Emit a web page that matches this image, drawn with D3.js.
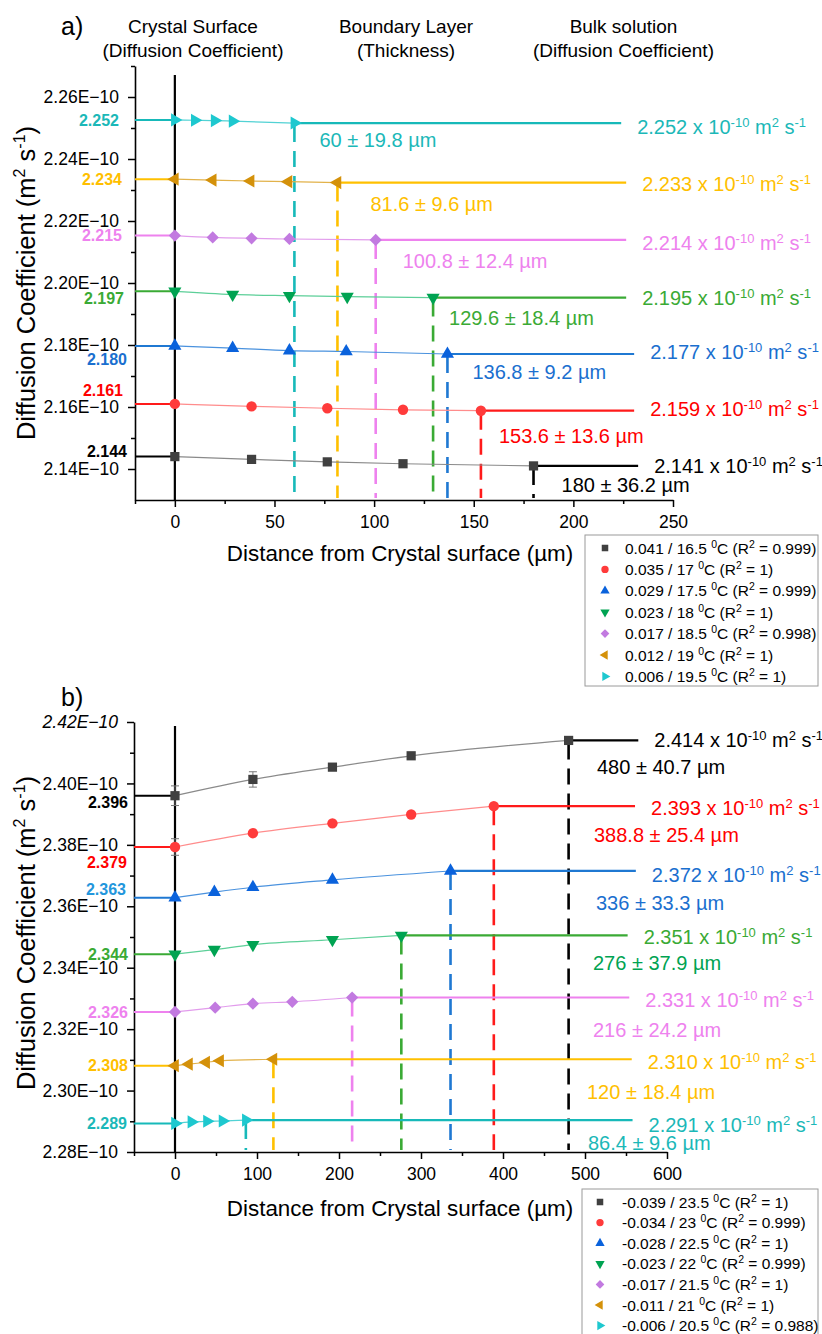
<!DOCTYPE html>
<html>
<head>
<meta charset="utf-8">
<script src="https://d3js.org/d3.v7.min.js"></script>
<style>
body { margin: 0; background: #fff; }
text { font-family: Arial, "Liberation Sans", sans-serif; }
</style>
</head>
<body>
<div id="chart-area"></div>
<script>
// ---- Panel a data (order: legend order) ----
var aLegend = ["0.041 / 16.5", "0.035 / 17", "0.029 / 17.5", "0.023 / 18", "0.017 / 18.5", "0.012 / 19", "0.006 / 19.5"];
var aR2 = ["0.999", "1", "0.999", "1", "0.998", "1", "1"];
var aDist = [
    [0, 38.5, 76.5, 114.5, 180],
    [0, 38.5, 76.5, 114.5, 153.6],
    [0, 29, 57.5, 86, 136.8],
    [0, 29, 57.5, 86.5, 129.6],
    [0, 19, 38.5, 57.5, 100.8],
    [0, 19, 38, 57, 81.6],
    [0, 10, 20, 29, 60]
];
var aCoef = [
    [2.1440, 2.1431, 2.1423, 2.1417, 2.1410],
    [2.1610, 2.1602, 2.1596, 2.1591, 2.1588],
    [2.1797, 2.1790, 2.1782, 2.1779, 2.1771],
    [2.1973, 2.1963, 2.1959, 2.1956, 2.1953],
    [2.2153, 2.2147, 2.2144, 2.2142, 2.2139],
    [2.2335, 2.2332, 2.2329, 2.2327, 2.2324],
    [2.2526, 2.2525, 2.2524, 2.2522, 2.2516]
];
var aErr = [[0, 0, 0, 0, 0], [0, 0, 0, 0, 0], [0, 0, 0, 0, 0], [0, 0, 0, 0, 0], [0, 0, 0, 0, 0], [0, 0, 0, 0, 0], [0, 0, 0, 0, 0]];
var aSurface = ["2.144", "2.161", "2.180", "2.197", "2.215", "2.234", "2.252"];
var aBulk = ["2.141", "2.159", "2.177", "2.195", "2.214", "2.233", "2.252"];
var aBulkEnd = [232.5, 230.5, 230.5, 226.5, 226.5, 226.5, 224];
var aThick = [180, 153.6, 136.8, 129.6, 100.8, 81.6, 60];
var aThickErr = [36.2, 13.6, 9.2, 18.4, 12.4, 9.6, 19.8];
var aXTicks = [0, 50, 100, 150, 200, 250];
var aYTicks = [2.14, 2.16, 2.18, 2.20, 2.22, 2.24, 2.26];

// ---- Panel b data ----
var bLegend = ["-0.039 / 23.5", "-0.034 / 23", "-0.028 / 22.5", "-0.023 / 22", "-0.017 / 21.5", "-0.011 / 21", "-0.006 / 20.5"];
var bR2 = ["1", "0.999", "1", "0.999", "1", "1", "0.988"];
var bDist = [
    [0, 95, 192, 288, 480],
    [0, 95, 192, 288, 388.8],
    [0, 48, 95, 192, 336],
    [0, 48, 95, 192, 276],
    [0, 49, 95, 143, 216],
    [0, 17, 38, 55, 120],
    [0, 20, 39, 58, 86.4]
];
var bCoef = [
    [2.3960, 2.4013, 2.4053, 2.4090, 2.4140],
    [2.3793, 2.3838, 2.3870, 2.3899, 2.3926],
    [2.3628, 2.3646, 2.3662, 2.3686, 2.3715],
    [2.3444, 2.3459, 2.3475, 2.3491, 2.3505],
    [2.3256, 2.3270, 2.3283, 2.3289, 2.3303],
    [2.3081, 2.3086, 2.3092, 2.3097, 2.3102],
    [2.2893, 2.2898, 2.2900, 2.2901, 2.2904]
];
var bErr = [[0.0032, 0.0025, 0, 0, 0], [0.0027, 0, 0, 0, 0], [0, 0, 0, 0, 0], [0, 0, 0, 0, 0], [0, 0, 0, 0, 0], [0, 0, 0, 0, 0], [0, 0, 0, 0, 0]];
var bSurface = ["2.396", "2.379", "2.363", "2.344", "2.326", "2.308", "2.289"];
var bBulk = ["2.414", "2.393", "2.372", "2.351", "2.331", "2.310", "2.291"];
var bBulkEnd = [565, 561, 562, 552, 554, 557, 558];
var bThick = [480, 388.8, 336, 276, 216, 120, 86.4];
var bThickErr = [40.7, 25.4, 33.3, 37.9, 24.2, 18.4, 9.6];
var bXTicks = [0, 100, 200, 300, 400, 500, 600];
var bYTicks = [2.28, 2.30, 2.32, 2.34, 2.36, 2.38, 2.40, 2.42];

// ---- styles ----
var markerColors = ["#404040", "#ff3b3b", "#0a62dc", "#00a352", "#c27ae0", "#d4910a", "#1ec8cf"];
var fitColors = ["#8a8a8a", "#ff8c8c", "#4a92de", "#5ccf98", "#e29cec", "#e2b24a", "#52d2d4"];
var lineColors = ["#000000", "#ff1a1a", "#1f78d2", "#3aaa35", "#ee82ee", "#ffc000", "#17b9b9"];
var textColors = ["#000000", "#ff0000", "#1a6fcf", "#3aaa35", "#ee82ee", "#ffbf00", "#1bb8b8"];
var symbols = [
    { type: d3.symbolSquare, rot: 0, size: 85 },
    { type: d3.symbolCircle, rot: 0, size: 85 },
    { type: d3.symbolTriangle, rot: 0, size: 75 },
    { type: d3.symbolTriangle, rot: 180, size: 75 },
    { type: d3.symbolSquare, rot: 45, size: 75 },
    { type: d3.symbolTriangle, rot: -90, size: 75 },
    { type: d3.symbolTriangle, rot: 90, size: 75 }
];

var svg = d3.select("#chart-area")
    .append("svg")
    .attr("width", 822)
    .attr("height", 1334);

svg.append("rect").attr("width", 822).attr("height", 1334).attr("fill", "#fff");

// write text with superscript parts: [[string, isSup], ...]
function richText(t, parts, supSize, shift) {
    var up = false;
    parts.forEach(function(p) {
        var s = t.append("tspan").text(p[0]);
        if (p[1]) {
            s.attr("font-size", supSize);
            if (!up) { s.attr("dy", -shift); up = true; }
        } else if (up) {
            s.attr("dy", shift);
            up = false;
        }
    });
}

function drawPanel(o) {
    var g = svg.append("g");

    // X Scale
    var x = d3.scaleLinear().domain(o.xDomain).range(o.xRange);
    // Y Scale
    var y = d3.scaleLinear().domain(o.yDomain).range(o.yRange);

    var yBottom = o.yRange[0];

    // minor ticks
    g.append("g")
        .attr("transform", "translate(0," + yBottom + ")")
        .call(d3.axisBottom(x).tickValues(o.xMinor).tickSize(4).tickSizeOuter(0).tickFormat(""))
        .call(function(a) { a.select(".domain").remove(); })
        .selectAll("line").attr("stroke-width", 1.5);
    g.append("g")
        .attr("transform", "translate(" + o.xRange[0] + ",0)")
        .call(d3.axisLeft(y).tickValues(o.yMinor).tickSize(4).tickSizeOuter(0).tickFormat(""))
        .call(function(a) { a.select(".domain").remove(); })
        .selectAll("line").attr("stroke-width", 1.5);

    // X Axis
    var xAxisGroup = g.append("g")
        .attr("transform", "translate(0," + yBottom + ")")
        .call(d3.axisBottom(x).tickValues(o.xTicks).tickSize(7).tickSizeOuter(0).tickPadding(9));
    xAxisGroup.select(".domain").attr("stroke-width", 1.6);
    xAxisGroup.selectAll("line").attr("stroke-width", 1.5);
    xAxisGroup.selectAll("text")
        .attr("font-family", "Arial, 'Liberation Sans', sans-serif")
        .attr("font-size", "17.5px")
        .attr("fill", "#000");

    // Y Axis
    var yAxisGroup = g.append("g")
        .attr("transform", "translate(" + o.xRange[0] + ",0)")
        .call(d3.axisLeft(y).tickValues(o.yTicks).tickSize(7).tickSizeOuter(0).tickPadding(9)
            .tickFormat(function(d) { return d3.format(".2f")(d) + "E\u221210"; }));
    yAxisGroup.select(".domain").attr("stroke-width", 1.6);
    yAxisGroup.selectAll("line").attr("stroke-width", 1.5);
    yAxisGroup.selectAll("text")
        .attr("font-family", "Arial, 'Liberation Sans', sans-serif")
        .attr("font-size", "17.5px")
        .attr("fill", "#000")
        .style("font-style", function(d) { return o.italicTop && d === o.yTicks[o.yTicks.length - 1] ? "italic" : "normal"; });

    // dashed thickness lines
    o.dist.forEach(function(xs, i) {
        var last = xs.length - 1;
        g.append("line")
            .attr("x1", x(o.thick[i])).attr("x2", x(o.thick[i]))
            .attr("y1", y(o.coef[i][last]) + 3).attr("y2", yBottom - 2)
            .attr("stroke", lineColors[i])
            .attr("stroke-width", 2.6)
            .attr("stroke-dasharray", "16,9");
    });

    var fit = d3.line()
        .x(function(d) { return x(d[0]); })
        .y(function(d) { return y(d[1]); })
        .curve(d3.curveMonotoneX);

    o.dist.forEach(function(xs, i) {
        var ys = o.coef[i];
        var last = xs.length - 1;
        var pts = xs.map(function(v, k) { return [v, ys[k]]; });

        // left surface line
        g.append("line")
            .attr("x1", x(o.xDomain[0])).attr("x2", x(0))
            .attr("y1", y(ys[0])).attr("y2", y(ys[0]))
            .attr("stroke", lineColors[i]).attr("stroke-width", 2);

        // fitted curve
        g.append("path")
            .attr("d", fit(pts))
            .attr("fill", "none")
            .attr("stroke", fitColors[i])
            .attr("stroke-width", 1.2);

        // bulk line
        g.append("line")
            .attr("x1", x(xs[last])).attr("x2", x(o.bulkEnd[i]))
            .attr("y1", y(ys[last])).attr("y2", y(ys[last]))
            .attr("stroke", lineColors[i]).attr("stroke-width", 2.2);

        // surface label
        g.append("text")
            .attr("x", o.surfX[i])
            .attr("y", y(ys[0]) + o.surfDy[i])
            .attr("dy", "0.35em")
            .attr("text-anchor", "end")
            .attr("font-weight", "bold")
            .attr("font-size", "16px")
            .attr("fill", o.surfColors ? o.surfColors[i] : textColors[i])
            .text(o.surface[i]);

        // bulk label
        var bt = g.append("text")
            .attr("x", x(o.bulkEnd[i]) + 16)
            .attr("y", y(ys[last]) + o.bulkDy[i])
            .attr("dy", "0.35em")
            .attr("font-size", "20px")
            .attr("fill", textColors[i]);
        richText(bt, [[o.bulk[i] + " x 10"], ["-10", 1], [" m"], ["2", 1], [" s"], ["-1", 1]], "13px", 7);

        // thickness label
        g.append("text")
            .attr("x", o.thickX(x, i))
            .attr("y", y(ys[last]) + o.thickDy[i])
            .attr("dy", "0.35em")
            .attr("font-size", "20px")
            .attr("fill", o.thickColors ? o.thickColors[i] : textColors[i])
            .text(o.thick[i] + " \u00b1 " + o.thickErr[i] + " \u00b5m");
    });

    // crystal surface line
    g.append("line")
        .attr("x1", x(0)).attr("x2", x(0))
        .attr("y1", o.surfTop).attr("y2", yBottom)
        .attr("stroke", "#000").attr("stroke-width", 2.2);

    // error bars + markers
    o.dist.forEach(function(xs, i) {
        xs.forEach(function(v, k) {
            var e = o.err[i][k];
            if (e > 0) {
                var cx = x(v);
                g.append("path")
                    .attr("d", "M" + (cx - 4) + "," + y(o.coef[i][k] + e) + "H" + (cx + 4) +
                        "M" + cx + "," + y(o.coef[i][k] + e) + "V" + y(o.coef[i][k] - e) +
                        "M" + (cx - 4) + "," + y(o.coef[i][k] - e) + "H" + (cx + 4))
                    .attr("stroke", "#777").attr("stroke-width", 1).attr("fill", "none");
            }
        });
        g.selectAll(null)
            .data(xs)
            .enter()
            .append("path")
            .attr("d", d3.symbol().type(symbols[i].type).size(symbols[i].size))
            .attr("transform", function(d, k) {
                return "translate(" + x(d) + "," + y(o.coef[i][k]) + ") rotate(" + symbols[i].rot + ")";
            })
            .attr("fill", markerColors[i]);
    });

    // axis titles
    var yt = g.append("text")
        .attr("transform", "translate(35," + o.yTitleY + ") rotate(-90)")
        .attr("text-anchor", "middle")
        .attr("font-size", "25.5px")
        .attr("fill", "#000");
    richText(yt, [["Diffusion Coefficient (m"], ["2", 1], [" s"], ["-1", 1], [")"]], "16px", 10);

    g.append("text")
        .attr("x", 400)
        .attr("y", o.xTitleY)
        .attr("text-anchor", "middle")
        .attr("font-size", "22.4px")
        .attr("fill", "#000")
        .text("Distance from Crystal surface (\u00b5m)");

    // panel letter
    g.append("text")
        .attr("x", 61)
        .attr("y", o.letterY)
        .attr("font-size", "25px")
        .attr("fill", "#000")
        .text(o.letter);

    // Legend
    var lg = g.append("g").attr("transform", "translate(" + o.legendX + "," + o.legendY + ")");
    lg.append("rect")
        .attr("width", o.legendW).attr("height", o.legendH)
        .attr("fill", "#fff").attr("stroke", "#9a9a9a").attr("stroke-width", 1);
    o.legend.forEach(function(lab, i) {
        var ry = o.legendRow0 + i * o.legendStep;
        lg.append("path")
            .attr("d", d3.symbol().type(symbols[i].type).size(symbols[i].size * 0.5))
            .attr("transform", "translate(" + o.legendSymX + "," + ry + ") rotate(" + symbols[i].rot + ")")
            .attr("fill", markerColors[i]);
        var lt = lg.append("text")
            .attr("x", o.legendTextX)
            .attr("y", ry)
            .attr("dy", "0.36em")
            .attr("font-size", "15.5px")
            .attr("fill", "#000");
        richText(lt, [[lab + " "], ["0", 1], ["C (R"], ["2", 1], [" = " + o.r2[i] + ")"]], "10.5px", 6);
    });
}

// Column headers
var headers = [
    ["Crystal Surface", "(Diffusion Coefficient)", 193],
    ["Boundary Layer", "(Thickness)", 406],
    ["Bulk solution", "(Diffusion Coefficient)", 623.5]
];
headers.forEach(function(h) {
    svg.append("text").attr("x", h[2]).attr("y", 33).attr("text-anchor", "middle")
        .attr("font-size", "19px").attr("fill", "#000").text(h[0]);
    svg.append("text").attr("x", h[2]).attr("y", 57).attr("text-anchor", "middle")
        .attr("font-size", "19px").attr("fill", "#000").text(h[1]);
});

drawPanel({
    letter: "a)", letterY: 35,
    xDomain: [-20, 250], xRange: [135, 673],
    yDomain: [2.13, 2.27], yRange: [500, 66],
    xTicks: aXTicks, xMinor: [-20, 25, 75, 125, 175, 225],
    yTicks: aYTicks, yMinor: [2.15, 2.17, 2.19, 2.21, 2.23, 2.25, 2.27],
    dist: aDist, coef: aCoef, err: aErr,
    surface: aSurface, bulk: aBulk, bulkEnd: aBulkEnd,
    thick: aThick, thickErr: aThickErr,
    surfX: [127, 123, 127, 124, 122, 122, 119],
    surfDy: [-5, -14, 13, 7, 0, 0, 0],
    bulkDy: [0, -2, -2, 0, 3, 1, 4],
    thickDy: [19, 25, 18, 20, 21, 21, 17],
    thickX: function(x, i) { return x(aThick[i]) + [28, 18, 25, 16, 27, 33, 25][i]; },
    surfTop: 75,
    yTitleY: 283, xTitleY: 561,
    legend: aLegend, r2: aR2,
    legendX: 585, legendY: 535, legendW: 233, legendH: 151,
    legendRow0: 13, legendStep: 21.4, legendSymX: 20, legendTextX: 40
});

drawPanel({
    letter: "b)", letterY: 706, italicTop: true,
    xDomain: [-50, 600], xRange: [134, 667],
    yDomain: [2.28, 2.42], yRange: [1152, 722],
    xTicks: bXTicks, xMinor: [-50, 50, 150, 250, 350, 450, 550],
    yTicks: bYTicks, yMinor: [2.29, 2.31, 2.33, 2.35, 2.37, 2.39, 2.41],
    dist: bDist, coef: bCoef, err: bErr,
    surface: bSurface, bulk: bBulk, bulkEnd: bBulkEnd,
    thick: bThick, thickErr: bThickErr,
    surfX: [128, 127, 126, 128, 128, 128, 127],
    surfDy: [7, 15, -8, 0, 0, 0, 0],
    surfColors: ["#000000", "#ff0000", "#2396dc", "#3aaa35", "#ee82ee", "#ffbf00", "#1bb8b8"],
    bulkDy: [0, 2, 4, 2, 2, 3, 5],
    thickDy: [27, 29, 32, 28, 32, 33, 23],
    thickColors: ["#000000", "#ff0000", "#1a6fcf", "#00a352", "#ee82ee", "#ffbf00", "#1bb8b8"],
    thickX: function(x, i) { return [597, 594, 596, 593, 593, 587, 588][i]; },
    surfTop: 726,
    yTitleY: 933, xTitleY: 1216,
    legend: bLegend, r2: bR2,
    legendX: 582, legendY: 1189, legendW: 236, legendH: 160,
    legendRow0: 13, legendStep: 20.6, legendSymX: 18, legendTextX: 40
});
</script>
</body>
</html>
